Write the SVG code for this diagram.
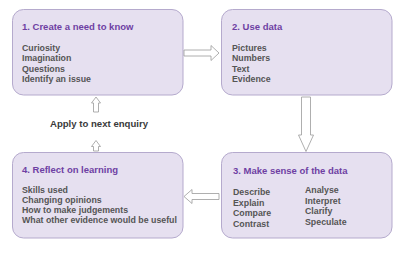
<svg xmlns="http://www.w3.org/2000/svg" width="400" height="256" viewBox="0 0 400 256">
<style>
.box{fill:#e6e0f0;stroke:#b5aacd;stroke-width:1}
.title{font-family:"Liberation Sans",Arial,sans-serif;font-weight:bold;font-size:9.5px;fill:#6e3fa3}
.body{font-family:"Liberation Sans",Arial,sans-serif;font-weight:bold;font-size:8.8px;fill:#555555}
.arrow{fill:#ffffff;stroke:#9a9a9a;stroke-width:0.8;stroke-linejoin:miter}
.label{font-family:"Liberation Sans",Arial,sans-serif;font-weight:bold;font-size:9.6px;fill:#3a3a3a}
</style>
<rect width="400" height="256" fill="#ffffff"/>
<g id="node1">
<rect class="box" x="12.5" y="9.5" width="170.5" height="85.5" rx="11" ry="11"/>
<text class="title" x="22" y="30">1. Create a need to know</text>
<text class="body" x="22" y="50.8">Curiosity</text>
<text class="body" x="22" y="61.3">Imagination</text>
<text class="body" x="22" y="71.8">Questions</text>
<text class="body" x="22" y="82.3">Identify an issue</text>
</g>
<g id="node2">
<rect class="box" x="221.5" y="9.5" width="170.5" height="85.5" rx="11" ry="11"/>
<text class="title" x="232" y="30">2. Use data</text>
<text class="body" x="232" y="50.8">Pictures</text>
<text class="body" x="232" y="61.3">Numbers</text>
<text class="body" x="232" y="71.8">Text</text>
<text class="body" x="232" y="82.3">Evidence</text>
</g>
<g id="node3">
<rect class="box" x="221.5" y="152.5" width="170.5" height="85.5" rx="11" ry="11"/>
<text class="title" x="233" y="173.5">3. Make sense of the data</text>
<text class="body" x="233" y="195">Describe</text>
<text class="body" x="233" y="205.5">Explain</text>
<text class="body" x="233" y="216">Compare</text>
<text class="body" x="233" y="226.5">Contrast</text>
<text class="body" x="305" y="193">Analyse</text>
<text class="body" x="305" y="203.5">Interpret</text>
<text class="body" x="305" y="214">Clarify</text>
<text class="body" x="305" y="224.5">Speculate</text>
</g>
<g id="node4">
<rect class="box" x="12.5" y="152.5" width="170.5" height="85.5" rx="11" ry="11"/>
<text class="title" x="22" y="172.5">4. Reflect on learning</text>
<text class="body" x="22" y="192.5">Skills used</text>
<text class="body" x="22" y="202.8">Changing opinions</text>
<text class="body" x="22" y="213.1">How to make judgements</text>
<text class="body" x="22" y="223.4">What other evidence would be useful</text>
</g>
<g id="connectors">
<path class="arrow" d="M184,50 H211 V45.5 L219,53 L211,60.5 V56 H184 Z"/>
<path class="arrow" d="M301.5,97 V135 H298.5 L306,151.5 L313.5,135 H310.5 V97 Z"/>
<path class="arrow" d="M219,193.5 H192 V189.5 L184,196.5 L192,203.5 V199.5 H219 Z"/>
<path class="arrow" d="M93.5,151 V146.5 H91.5 L96,140.5 L100.5,146.5 H98.5 V151 Z"/>
<path class="arrow" d="M93.5,112 V103 H91.5 L96,97 L100.5,103 H98.5 V112 Z"/>
</g>
<text id="loop-label" class="label" x="99" y="126.5" text-anchor="middle">Apply to next enquiry</text>
</svg>
